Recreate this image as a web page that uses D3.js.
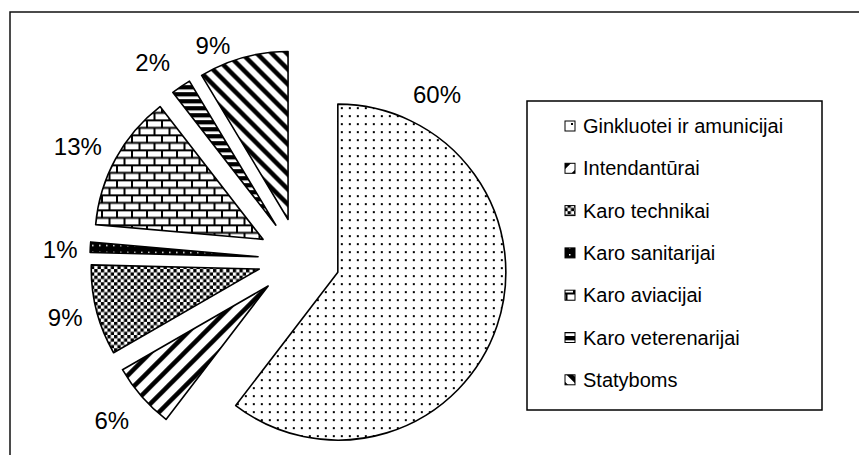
<!DOCTYPE html>
<html><head><meta charset="utf-8">
<script src="https://cdn.jsdelivr.net/npm/d3@7"></script>
<style>body{margin:0;background:#fff}svg{display:block;font-family:"Liberation Sans",Arial,sans-serif}</style>
</head><body><svg id="c" width="859" height="455"></svg>
<script>
const categories = ["Ginkluotei ir amunicijai","Intendantūrai","Karo technikai","Karo sanitarijai","Karo aviacijai","Karo veterenarijai","Statyboms"];
const values = [60.4, 6.3, 8.7, 1.0, 13.1, 1.9, 8.6];
const patternIds = ["pDots","pUp","pCheck","pSan","pBrick","pHoriz","pDown"];

// label layout (angle nudge in degrees relative to slice bisector, distance from pie centre)
const labelNudge = [-68.8, 0.5, 0.2, -1, -1.7, -2.3, -6.5];
const labelDist  = [215, 247, 241, 239, 248, 245, 230];

const svg = d3.select("#c");
const defs = svg.append("defs");

function pat(id,w,h,fn){const p=defs.append("pattern").attr("id",id).attr("patternUnits","userSpaceOnUse").attr("width",w).attr("height",h);p.append("rect").attr("width",w).attr("height",h).attr("fill","#fff");fn(p);}
pat("pDots",8,8,p=>{p.append("rect").attr("x",3).attr("y",3).attr("width",2).attr("height",2).attr("fill","#000");});
pat("pUp",17,17,p=>{p.append("path").attr("d","M-3,20 L20,-3 M-11.5,11.5 L11.5,-11.5 M5.5,28.5 L28.5,5.5").attr("stroke","#000").attr("stroke-width",4.5);});
pat("pDown",15,15,p=>{p.append("path").attr("d","M-3,-3 L18,18 M-10.5,4.5 L10.5,25.5 M4.5,-10.5 L25.5,10.5").attr("stroke","#000").attr("stroke-width",4.5);});
pat("pCheck",6.6,6.6,p=>{p.append("rect").attr("width",3.3).attr("height",3.3).attr("fill","#000");p.append("rect").attr("x",3.3).attr("y",3.3).attr("width",3.3).attr("height",3.3).attr("fill","#000");});
pat("pSan",7,7,p=>{p.select("rect").attr("fill","#000");p.append("rect").attr("x",2).attr("y",2).attr("width",1.5).attr("height",1.5).attr("fill","#fff");});
pat("pBrick",15,15,p=>{p.append("path").attr("d","M0,1 H15 M0,8.5 H15 M4,1 V8.5 M11.5,8.5 V16 M11.5,-6.5 V1").attr("stroke","#000").attr("stroke-width",2);});
pat("pHoriz",7,7,p=>{p.append("rect").attr("y",0).attr("width",7).attr("height",4.3).attr("fill","#000");});

// outer frame
svg.append("rect").attr("x",10).attr("y",12).attr("width",880).attr("height",480).attr("fill","none").attr("stroke","#111").attr("stroke-width",1.5);

const cx=299, cy=259, R=168, explode=41;
const pie = d3.pie().sort(null).value(d=>d);
const arcs = pie(values);
const arc = d3.arc().innerRadius(0).outerRadius(R);
const g = svg.append("g").attr("transform",`translate(${cx},${cy})`);
g.selectAll("path.s").data(arcs).join("path").attr("class","s")
 .attr("transform",d=>{const m=(d.startAngle+d.endAngle)/2;return `translate(${Math.sin(m)*explode},${-Math.cos(m)*explode})`;})
 .attr("d",arc).attr("fill",(d,i)=>`url(#${patternIds[i]})`).attr("stroke","#000").attr("stroke-width",1.6).attr("stroke-linejoin","round");

const fs=24;
g.selectAll("text.l").data(arcs).join("text").attr("class","l")
 .attr("font-size",fs).attr("fill","#000").attr("text-anchor","middle").attr("dominant-baseline","central")
 .attr("x",(d,i)=>{const m=(d.startAngle+d.endAngle)/2+labelNudge[i]*Math.PI/180;return Math.sin(m)*labelDist[i];})
 .attr("y",(d,i)=>{const m=(d.startAngle+d.endAngle)/2+labelNudge[i]*Math.PI/180;return -Math.cos(m)*labelDist[i];})
 .text(d=>Math.round(d.value)+"%");

// legend
const lx=527, ly=101, lw=295, lh=309;
svg.append("rect").attr("x",lx).attr("y",ly).attr("width",lw).attr("height",lh).attr("fill","#fff").attr("stroke","#000").attr("stroke-width",1.5);
const leg = svg.append("g");
const step=42.3, y0=126;
categories.forEach((c,i)=>{
  const y=y0+i*step;
  leg.append("rect").attr("x",565).attr("y",y-5).attr("width",10).attr("height",10).attr("fill",`url(#${patternIds[i]})`).attr("stroke","#000").attr("stroke-width",1);
  leg.append("text").attr("x",583).attr("y",y).attr("dominant-baseline","central").attr("font-size",20).text(c);
});
</script></body></html>
